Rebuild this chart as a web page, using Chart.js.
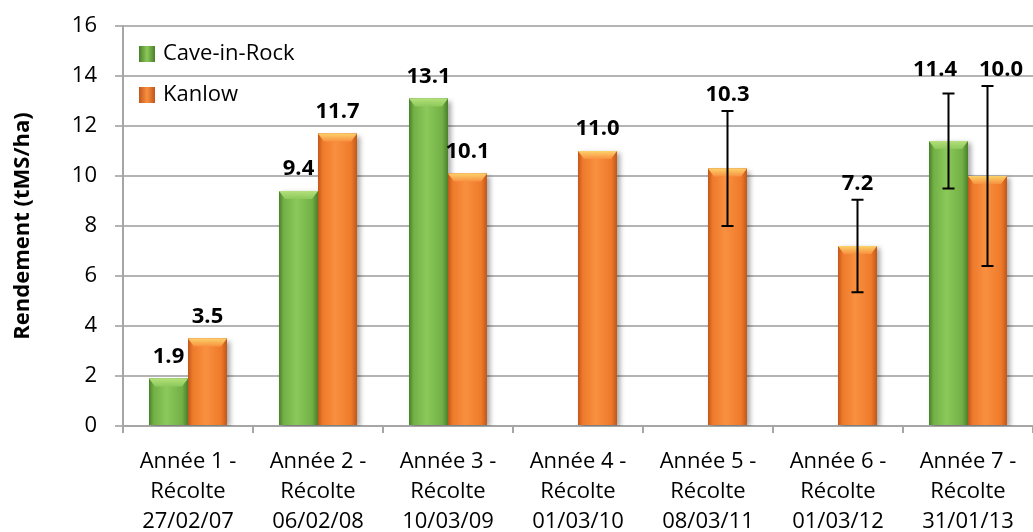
<!DOCTYPE html>
<html>
<head>
<meta charset="utf-8">
<script src="https://cdn.jsdelivr.net/npm/chart.js@4/dist/chart.umd.min.js"></script>
<style>
  html, body { margin: 0; padding: 0; background: #fff; }
  #wrap { width: 1033px; height: 532px; }
</style>
</head>
<body>
<div id="wrap"><canvas id="chart" width="1033" height="532"></canvas></div>
<script>
const categories = [
  ["Année 1 -", "Récolte", "27/02/07"],
  ["Année 2 -", "Récolte", "06/02/08"],
  ["Année 3 -", "Récolte", "10/03/09"],
  ["Année 4 -", "Récolte", "01/03/10"],
  ["Année 5 -", "Récolte", "08/03/11"],
  ["Année 6 -", "Récolte", "01/03/12"],
  ["Année 7 -", "Récolte", "31/01/13"]
];
const caveInRock = [1.9, 9.4, 13.1, null, null, null, 11.4];
const kanlow = [3.5, 11.7, 10.1, 11.0, 10.3, 7.2, 10.0];
const caveErrors = [null, null, null, null, null, null, 1.9];
const kanlowErrors = [null, null, null, null, 2.3, 1.85, 3.6];
const yTicks = [0, 2, 4, 6, 8, 10, 12, 14, 16];

const FONT = "'Open Sans', sans-serif";

const palette = [
  { mid: "#72b046", light: "#8cc95a", dark: "#4a7f2a", top: "#b4e07a" },
  { mid: "#ee7a2a", light: "#f89040", dark: "#c2561a", top: "#fcd26a" }
];
const errorSets = [caveErrors, kanlowErrors];

const barLook = {
  id: "barLook",
  beforeDatasetsDraw(chart) {
    const ctx = chart.ctx;
    ctx.save();
    ctx.shadowColor = "rgba(0,0,0,0.35)";
    ctx.shadowBlur = 5;
    ctx.shadowOffsetX = 3;
    ctx.shadowOffsetY = 2;
  },
  afterDatasetsDraw(chart) {
    const ctx = chart.ctx;
    ctx.restore();
    chart.data.datasets.forEach((ds, di) => {
      const meta = chart.getDatasetMeta(di);
      const c = palette[di];
      meta.data.forEach((bar, i) => {
        if (ds.data[i] == null) return;
        const w = bar.width;
        const x0 = bar.x - w / 2, x1 = bar.x + w / 2;
        const top = bar.y, base = bar.base;
        const g = ctx.createLinearGradient(x0, 0, x1, 0);
        g.addColorStop(0, c.dark);
        g.addColorStop(0.12, c.mid);
        g.addColorStop(0.45, c.light);
        g.addColorStop(0.85, c.mid);
        g.addColorStop(1, c.dark);
        ctx.fillStyle = g;
        ctx.fillRect(x0, top, w, base - top);
        const bev = 8;
        const vg = ctx.createLinearGradient(0, top, 0, top + bev);
        vg.addColorStop(0, c.top);
        vg.addColorStop(1, c.light);
        ctx.fillStyle = vg;
        ctx.beginPath();
        ctx.moveTo(x0, top);
        ctx.lineTo(x1, top);
        ctx.lineTo(x1 - 6, top + bev);
        ctx.lineTo(x0 + 6, top + bev);
        ctx.closePath();
        ctx.fill();
      });
    });

    // error bars, then collect value labels
    const y = chart.scales.y;
    const labels = [];
    chart.data.datasets.forEach((ds, di) => {
      const meta = chart.getDatasetMeta(di);
      meta.data.forEach((bar, i) => {
        const v = ds.data[i];
        if (v == null) return;
        const err = errorSets[di][i];
        let labelY = bar.y - 22;
        if (err != null) {
          const yt = y.getPixelForValue(v + err);
          const yb = y.getPixelForValue(v - err);
          ctx.save();
          ctx.strokeStyle = "#000";
          ctx.lineWidth = 2;
          ctx.beginPath();
          ctx.moveTo(bar.x, yt); ctx.lineTo(bar.x, yb);
          ctx.moveTo(bar.x - 6, yt); ctx.lineTo(bar.x + 6, yt);
          ctx.moveTo(bar.x - 6, yb); ctx.lineTo(bar.x + 6, yb);
          ctx.stroke();
          ctx.restore();
          labelY = Math.min(labelY, yt - 16);
        }
        labels.push({ i, di, x: bar.x, y: labelY, text: v.toFixed(1) });
      });
    });

    ctx.save();
    ctx.fillStyle = "#000";
    ctx.font = "bold 22px " + FONT;
    ctx.textAlign = "center";
    ctx.textBaseline = "middle";
    // push apart labels of the same category that would collide
    categories.forEach((_, i) => {
      const pair = labels.filter(l => l.i === i);
      if (pair.length !== 2) return;
      const [a, b] = pair;
      const need = (ctx.measureText(a.text).width + ctx.measureText(b.text).width) / 2 + 22;
      if (Math.abs(a.y - b.y) < 24 && b.x - a.x < need) {
        const shift = (need - (b.x - a.x)) / 2;
        a.x -= shift;
        b.x += shift;
        const yy = Math.min(a.y, b.y);
        a.y = yy; b.y = yy;
      }
    });
    labels.forEach(l => ctx.fillText(l.text, l.x, l.y));
    ctx.restore();

    // legend inside plot area
    const area = chart.chartArea;
    chart.data.datasets.forEach((ds, di) => {
      const c = palette[di];
      const lx = area.left + 16, ly = area.top + 28 + di * 41;
      const g = ctx.createLinearGradient(lx, 0, lx + 16, 0);
      g.addColorStop(0, c.dark);
      g.addColorStop(0.5, c.light);
      g.addColorStop(1, c.dark);
      ctx.fillStyle = g;
      ctx.fillRect(lx, ly - 8, 16, 16);
      ctx.fillStyle = "#000";
      ctx.font = "22px " + FONT;
      ctx.textAlign = "left";
      ctx.textBaseline = "middle";
      ctx.fillText(ds.label, lx + 24, ly);
    });
  }
};

new Chart(document.getElementById("chart"), {
  type: "bar",
  data: {
    labels: categories,
    datasets: [
      { label: "Cave-in-Rock", data: caveInRock, backgroundColor: palette[0].mid },
      { label: "Kanlow", data: kanlow, backgroundColor: palette[1].mid }
    ]
  },
  options: {
    responsive: false,
    animation: false,
    events: [],
    layout: { padding: { top: 26, right: 0, left: 0, bottom: 0 } },
    categoryPercentage: 0.6,
    barPercentage: 1.0,
    plugins: {
      legend: { display: false },
      tooltip: { enabled: false }
    },
    scales: {
      x: {
        offset: true,
        grid: {
          offset: true,
          drawOnChartArea: false,
          color: "#a6a6a6",
          lineWidth: 2,
          tickLength: 7
        },
        border: { color: "#a6a6a6", width: 2 },
        ticks: {
          color: "#000",
          font: { family: FONT, size: 22, lineHeight: 1.36 },
          maxRotation: 0,
          padding: 14
        },
        afterFit(scale) { scale.height = 106; }
      },
      y: {
        min: 0,
        max: 16,
        afterBuildTicks(scale) { scale.ticks = yTicks.map(v => ({ value: v })); },
        grid: { color: "#b4b4b4", lineWidth: 2, tickLength: 8 },
        border: { color: "#a6a6a6", width: 2 },
        ticks: {
          color: "#000",
          font: { family: FONT, size: 22 },
          padding: 18
        },
        title: {
          display: true,
          text: "Rendement (tMS/ha)",
          color: "#000",
          font: { family: FONT, size: 22, weight: "bold" },
          padding: { top: 10, bottom: 0 }
        },
        afterFit(scale) {
          scale.width = 123;
          scale.paddingTop = 0;
          scale.paddingBottom = 0;
        }
      }
    }
  },
  plugins: [barLook]
});
</script>
</body>
</html>
